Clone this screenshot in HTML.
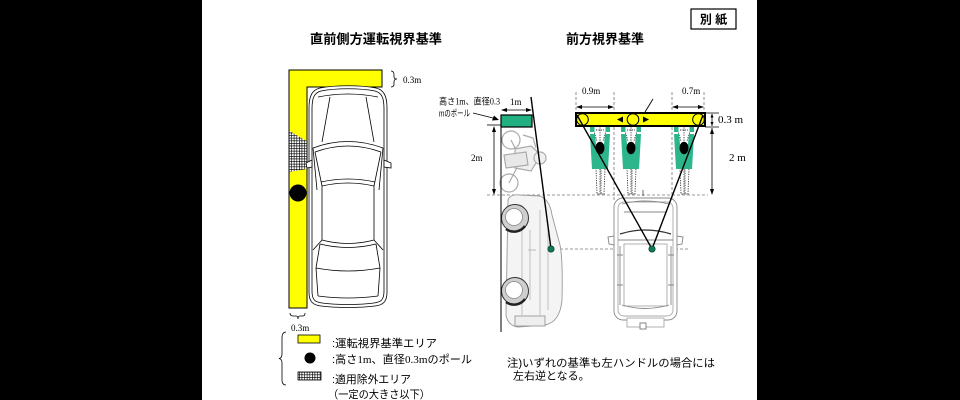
<!DOCTYPE html>
<html><head><meta charset="utf-8">
<style>
html,body{margin:0;padding:0;background:#000;}
svg{display:block;}
.jp{font-family:"Liberation Sans","Noto Sans CJK JP",sans-serif;}
.sf{font-family:"Liberation Serif","Noto Serif CJK JP",serif;}
</style></head><body>
<svg width="960" height="400" viewBox="0 0 960 400" xmlns="http://www.w3.org/2000/svg">
<defs>
<pattern id="hatch" width="2.6" height="2.6" patternUnits="userSpaceOnUse">
<rect width="2.6" height="2.6" fill="#fff"/>
<path d="M0,0.3 H2.6 M0.3,0 V2.6" stroke="#000" stroke-width="0.7"/>
</pattern>
</defs>
<rect width="960" height="400" fill="#000"/>
<rect x="202" y="0" width="555" height="400" fill="#fff"/>

<!-- titles -->
<text x="310" y="43.5" class="jp" font-size="13" font-weight="bold" textLength="132" lengthAdjust="spacingAndGlyphs">直前側方運転視界基準</text>
<text x="566" y="43.5" class="jp" font-size="13" font-weight="bold" textLength="78" lengthAdjust="spacingAndGlyphs">前方視界基準</text>
<rect x="691" y="9" width="45" height="20" fill="#fff" stroke="#000" stroke-width="1.2"/>
<text x="713.5" y="23.5" class="jp" font-size="12" font-weight="bold" text-anchor="middle">別 紙</text>

<!-- LEFT DIAGRAM -->
<polygon points="289,70 382,70 382,87 307,87 307,308 289,308" fill="#ffff00" stroke="#000" stroke-width="1"/>
<polygon points="289.5,131 306.5,141 306.5,169 289.5,172" fill="url(#hatch)"/>
<circle cx="298" cy="193" r="8.5" fill="#000"/>
<path d="M391,71 Q394,71 394,75 L394,77 Q394,79 397,79 Q394,79 394,82 L394,84 Q394,87 391,87" fill="none" stroke="#000" stroke-width="0.8"/>
<text x="403" y="83" class="sf" font-size="9">0.3m</text>
<path d="M290,313 Q290,316 293,316 L296,316 Q298,316 298,319 Q298,316 300,316 L303,316 Q305,316 305,313" fill="none" stroke="#000" stroke-width="0.8"/>
<text x="291" y="331" class="sf" font-size="9">0.3m</text>

<!-- left car -->
<g fill="none" stroke="#000" stroke-width="0.8">
<path d="M320,88 C335,85 361,85 376,88 C384,90 387,96 387,108 L387,292 C387,302 383,305 375,306 C360,308 336,308 321,306 C313,305 309,302 309,292 L309,108 C309,96 312,90 320,88 Z" fill="#fff"/>
<path d="M321,91 C336,88 360,88 375,91 C382,93 384,98 384,109 L384,291 C384,300 381,302 374,303 C360,305 336,305 322,303 C315,302 312,300 312,291 L312,109 C312,98 314,93 321,91 Z"/>
<path d="M318,97 Q348,91 378,97"/>
<path d="M330,97 L322,142 M366,97 L374,142"/>
<path d="M313,148 Q348,135 383,148 M315,152 Q348,140 381,152"/>
<path d="M315,152 L322,186 M381,152 L374,186 M313,148 L317,190 M383,148 L379,190"/>
<path d="M322,186 Q348,180 374,186 M321,182 Q348,176 375,182"/>
<path d="M322,186 L322,240 M374,186 L374,240"/>
<path d="M322,240 Q348,247 374,240 M320,244 Q348,251 376,244"/>
<path d="M320,244 L316,268 M376,244 L380,268 M316,268 Q348,274 380,268"/>
<path d="M316,268 L318,296 M380,268 L378,296 M318,296 Q348,300 378,296"/>
<path d="M322,240 L313,250 M374,240 L383,250"/>
<path d="M312,160 L306,163 L307,168 L312,167 Z M384,160 L391,163 L391,168 L384,167 Z" fill="#fff"/>
</g>

<!-- legend -->
<path d="M286,332 Q282,332 282,338 L282,354 Q282,358 279,358.5 Q282,359 282,363 L282,380 Q282,385 286,385" fill="none" stroke="#000" stroke-width="0.8"/>
<rect x="298" y="335" width="22" height="8" fill="#ffff00" stroke="#000" stroke-width="0.8"/>
<text x="332" y="347" class="jp" font-size="11" textLength="105" lengthAdjust="spacingAndGlyphs">:運転視界基準エリア</text>
<circle cx="310" cy="358" r="5.5" fill="#000"/>
<text x="332" y="363" class="jp" font-size="11" textLength="140" lengthAdjust="spacingAndGlyphs">:高さ<tspan class="sf">1m</tspan>、直径<tspan class="sf">0.3m</tspan>のポール</text>
<rect x="298" y="372" width="23" height="8" fill="url(#hatch)" stroke="#000" stroke-width="0.8"/>
<text x="332" y="383" class="jp" font-size="11" textLength="79" lengthAdjust="spacingAndGlyphs">:適用除外エリア</text>
<text x="328" y="398" class="jp" font-size="11" textLength="102" lengthAdjust="spacingAndGlyphs">（一定の大きさ以下）</text>

<!-- RIGHT DIAGRAM -->
<!-- dashed guides -->
<g stroke="#777" stroke-width="0.8" stroke-dasharray="3,2" fill="none">
<path d="M487,195 L708,195"/>
<path d="M540,249 L690,249"/>
<path d="M576,92 L576,113 M614,92 L614,200 M672,92 L672,200 M704,92 L704,113"/>
</g>
<path d="M643,190 L643,318" stroke="#444" stroke-width="0.8" stroke-dasharray="6,2,1,2" fill="none"/>

<!-- bicycle sketch -->
<g fill="none" stroke="#aaa" stroke-width="1.2">
<circle cx="511" cy="140" r="9"/>
<circle cx="509" cy="183" r="9"/>
<path d="M511,140 L521,160 L509,183 M521,160 L532,170"/>
<path d="M515,149 L531,146 L541,155 L531,171 L515,168 Z" fill="#f0f0f0"/>
<circle cx="540" cy="158" r="6" fill="#f0f0f0"/>
<path d="M504,155 L526,152 L528,165 L506,168 Z" fill="#e8e8e8"/>
<path d="M523,135 L533,138 L536,148"/>
</g>

<!-- side car -->
<g stroke="#999" stroke-width="0.9">
<path d="M508,200 Q510,194 520,195 L540,196 Q550,200 552,215 L560,245 Q563,260 562,300 Q560,322 545,325 L518,327 Q508,326 506,315 Z" fill="#f4f4f4"/>
<path d="M522,205 L522,315 M540,210 L540,315 M548,228 L548,310 M528,250 L536,250 M530,230 L530,300" fill="none" stroke="#bbb"/>
<rect x="515" y="316" width="30" height="10" fill="#eee" stroke="#999"/>
</g>
<g>
<circle cx="515" cy="218" r="13.5" fill="#cfcfcf" stroke="#333" stroke-width="1"/>
<circle cx="514" cy="217" r="8.5" fill="#fff" stroke="#888" stroke-width="0.8"/>
<circle cx="515" cy="291" r="13.5" fill="#cfcfcf" stroke="#333" stroke-width="1"/>
<circle cx="514" cy="290" r="8.5" fill="#fff" stroke="#888" stroke-width="0.8"/>
<path d="M525,226 A13.5,13.5 0 0 1 506,229" fill="none" stroke="#222" stroke-width="2.5"/>
<path d="M525,299 A13.5,13.5 0 0 1 506,302" fill="none" stroke="#222" stroke-width="2.5"/>
</g>

<!-- front car -->
<g fill="none" stroke="#888" stroke-width="0.9">
<rect x="614" y="198" width="63" height="122" rx="9" fill="#fff"/>
<rect x="618" y="202" width="55" height="114" rx="6" stroke="#aaa"/>
<path d="M620,234 Q645,226 671,234" stroke="#333" stroke-width="1.3"/>
<path d="M618,240 L673,240"/>
<path d="M608,237 L614,236 L614,245 L609,244 Z M677,236 L683,237 L682,244 L677,245 Z" fill="#fff"/>
<rect x="624" y="244" width="43" height="62" stroke="#aaa"/>
<path d="M620,246 L620,305 M671,246 L671,305 M617,255 L623,255 M668,255 L674,255 M617,285 L623,285 M668,285 L674,285"/>
<path d="M622,305 Q645,312 669,305"/>
<rect x="627" y="318" width="37" height="9" fill="#fff" stroke="#aaa"/>
<rect x="640" y="323" width="6" height="6" fill="#fff" stroke="#777"/>
<path d="M622,204 Q645,198 669,204 M624,212 L667,212"/>
</g>

<!-- pole box -->
<rect x="501" y="115" width="31" height="12" fill="#22b083" stroke="#000" stroke-width="1.2"/>
<path d="M501,115 L501,332" stroke="#000" stroke-width="1"/>
<path d="M531,97 L551,249" stroke="#000" stroke-width="1.4"/>
<text x="439" y="104.5" class="jp" font-size="9" textLength="61" lengthAdjust="spacingAndGlyphs">高さ<tspan class="sf">1m</tspan>、直径<tspan class="sf">0.3</tspan></text>
<text x="439" y="116.5" class="jp" font-size="9" textLength="31" lengthAdjust="spacingAndGlyphs">mのポール</text>
<path d="M473,113 L495,118.5" stroke="#000" stroke-width="0.9"/>
<polygon points="499,120 492,120.5 494,115.5" fill="#000"/>
<text x="510" y="105" class="sf" font-size="9">1m</text>
<path d="M502,110 L531,110" stroke="#000" stroke-width="0.8"/>
<polygon points="501,110 507,108 507,112" fill="#000"/>
<polygon points="532,110 526,108 526,112" fill="#000"/>
<path d="M487,125 L501,125" stroke="#000" stroke-width="0.8"/>
<path d="M494,127 L494,194" stroke="#000" stroke-width="0.8"/>
<polygon points="494,126 492,132 496,132" fill="#000"/>
<polygon points="494,195 492,189 496,189" fill="#000"/>
<text x="471" y="161" class="sf" font-size="9">2m</text>

<!-- pedestrians -->
<g fill="none" stroke="#333" stroke-width="0.9" stroke-dasharray="1.2,1.2">
<path d="M596,168 L597,194 L600,194 L600,168 M601,168 L601,194 L604,194 L605,168"/>
<path d="M593,128 L597,141 M607,128 L603,141 M600,125 L600,141 M596,130 L604,130"/>
<path d="M627,168 L628,194 L631,194 L631,168 M632,168 L632,194 L635,194 L636,168"/>
<path d="M624,128 L628,141 M638,128 L634,141 M631,125 L631,141 M627,130 L635,130"/>
<path d="M680,168 L681,194 L684,194 L684,168 M685,168 L685,194 L688,194 L689,168"/>
<path d="M677,128 L681,141 M691,128 L687,141 M684,125 L684,141 M680,130 L688,130"/>
</g>
<g fill="#2db58b">
<rect x="590" y="127" width="4.5" height="5"/><rect x="605.5" y="127" width="4.5" height="5"/>
<polygon points="590,134 595,134 596,144 604,144 605,134 610,134 609,152 608,169 592,169 591,152"/>
<rect x="621" y="127" width="4.5" height="5"/><rect x="636.5" y="127" width="4.5" height="5"/>
<polygon points="621,134 626,134 627,144 635,144 636,134 641,134 640,152 639,169 623,169 622,152"/>
<rect x="674" y="127" width="4.5" height="5"/><rect x="689.5" y="127" width="4.5" height="5"/>
<polygon points="674,134 679,134 680,144 688,144 689,134 694,134 693,152 692,169 676,169 675,152"/>
</g>
<ellipse cx="600" cy="148" rx="4.5" ry="6.2" fill="#000"/>
<ellipse cx="631" cy="148" rx="4.5" ry="6.2" fill="#000"/>
<ellipse cx="684" cy="148" rx="4.5" ry="6.2" fill="#000"/>

<!-- yellow bar -->
<rect x="576" y="113" width="129" height="13" fill="#ffff00" stroke="#000" stroke-width="2"/>
<g fill="none" stroke="#000" stroke-width="1">
<circle cx="582.5" cy="119.5" r="5.8"/>
<circle cx="633" cy="119.5" r="5.8"/>
<circle cx="698.5" cy="119.5" r="5.8"/>
</g>
<polygon points="617,119.5 623,116.5 623,122.5" fill="#000"/>
<polygon points="649,119.5 643,116.5 643,122.5" fill="#000"/>
<path d="M653,99 L645,112" stroke="#000" stroke-width="0.9"/>

<!-- sight lines -->
<path d="M577,115 L652,249 M703,115 L652,249" stroke="#000" stroke-width="1.4" fill="none"/>
<circle cx="551" cy="249" r="3.2" fill="#0f7a55" stroke="#033" stroke-width="0.6"/>
<circle cx="652" cy="249" r="3.2" fill="#0f7a55" stroke="#033" stroke-width="0.6"/>

<!-- top dims -->
<text x="582" y="94" class="sf" font-size="9">0.9m</text>
<text x="682" y="94" class="sf" font-size="9">0.7m</text>
<path d="M577,107 L613,107 M673,107 L703,107" stroke="#000" stroke-width="0.8"/>
<polygon points="576,107 582,105 582,109" fill="#000"/>
<polygon points="614,107 608,105 608,109" fill="#000"/>
<polygon points="672,107 678,105 678,109" fill="#000"/>
<polygon points="704,107 698,105 698,109" fill="#000"/>

<!-- right dims -->
<path d="M705,113 L719,113 M705,127 L719,127" stroke="#000" stroke-width="0.8"/>
<path d="M712,114 L712,126 M712,128 L712,194" stroke="#000" stroke-width="0.8"/>
<polygon points="712,113.5 710.5,117.5 713.5,117.5" fill="#000"/>
<polygon points="712,126 710.5,122 713.5,122" fill="#000"/>
<polygon points="712,128 710,134 714,134" fill="#000"/>
<polygon points="712,195 710,189 714,189" fill="#000"/>
<text x="718" y="123" class="sf" font-size="11">0.3 m</text>
<text x="729" y="161" class="sf" font-size="11">2 m</text>

<!-- note -->
<text x="507" y="366.5" class="jp" font-size="11" textLength="208" lengthAdjust="spacingAndGlyphs">注)いずれの基準も左ハンドルの場合には</text>
<text x="513" y="379.5" class="jp" font-size="11">左右逆となる。</text>
</svg>
</body></html>
